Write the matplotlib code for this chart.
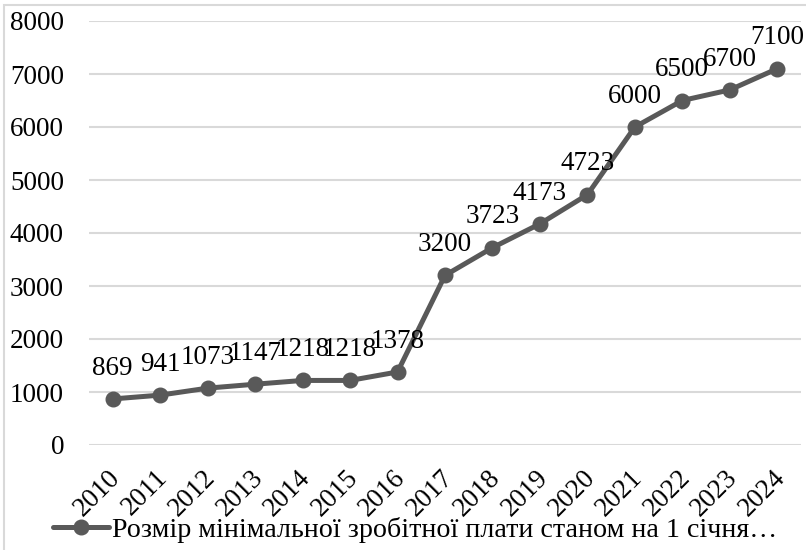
import matplotlib
matplotlib.use("Agg")
import matplotlib.pyplot as plt
import matplotlib.transforms as mtransforms
from matplotlib.patches import Rectangle

years = ["2010", "2011", "2012", "2013", "2014", "2015", "2016", "2017",
         "2018", "2019", "2020", "2021", "2022", "2023", "2024"]
values = [869, 941, 1073, 1147, 1218, 1218, 1378, 3200, 3723, 4173, 4723,
          6000, 6500, 6700, 7100]
series_label = "Розмір мінімальної зробітної плати станом на 1 січня…"
yticks = [0, 1000, 2000, 3000, 4000, 5000, 6000, 7000, 8000]

plt.rcParams['font.family'] = ['Liberation Serif', 'DejaVu Serif']
W, H = 806, 550
FS = 19.5
fig = plt.figure(figsize=(W / 100, H / 100), dpi=100)
ax = fig.add_axes([89 / W, 1 - 445 / H, 712 / W, (445 - 21) / H])

color = '#595959'
x = list(range(len(years)))
ax.plot(x, values, color=color, lw=3.6, marker='o', markersize=10.5,
        solid_capstyle='round', label=series_label, zorder=3)

for i, v in enumerate(values):
    ax.annotate(str(v), (i, v), xytext=(0, 17.5), textcoords='offset points',
                ha='center', va='baseline', fontsize=FS, color='black', zorder=4)

ax.set_xlim(-0.5, len(years) - 0.5)
ax.set_ylim(0, 8000)
ax.set_yticks(yticks)
ax.set_yticklabels([str(t) for t in yticks], fontsize=FS)
ax.set_xticks(x)
ax.set_xticklabels(years, fontsize=FS, rotation=45, ha='right',
                   rotation_mode='anchor', va='center')
ax.tick_params(axis='both', length=0)
ax.tick_params(axis='y', pad=18)
ax.tick_params(axis='x', pad=21)
shift = mtransforms.ScaledTranslation(4 / 100, 0, fig.dpi_scale_trans)
for lbl in ax.get_xticklabels():
    lbl.set_transform(lbl.get_transform() + shift)
ax.grid(axis='y', color='#d9d9d9', lw=1.5)
ax.set_axisbelow(True)
for s in ax.spines.values():
    s.set_visible(False)

# chart area border (cropped: visible on left and top)
fig.patches.append(Rectangle((4 / W, -0.1), 1.2, 1 - 5 / H + 0.1, transform=fig.transFigure,
                             fill=False, edgecolor='#d9d9d9', lw=1.5))

fig.legend(loc='center', bbox_to_anchor=(415 / W, 1 - 530 / H), frameon=False,
           fontsize=20.2, handlelength=2.0, handletextpad=0.1, borderpad=0)

fig.savefig("out.png", dpi=100)
